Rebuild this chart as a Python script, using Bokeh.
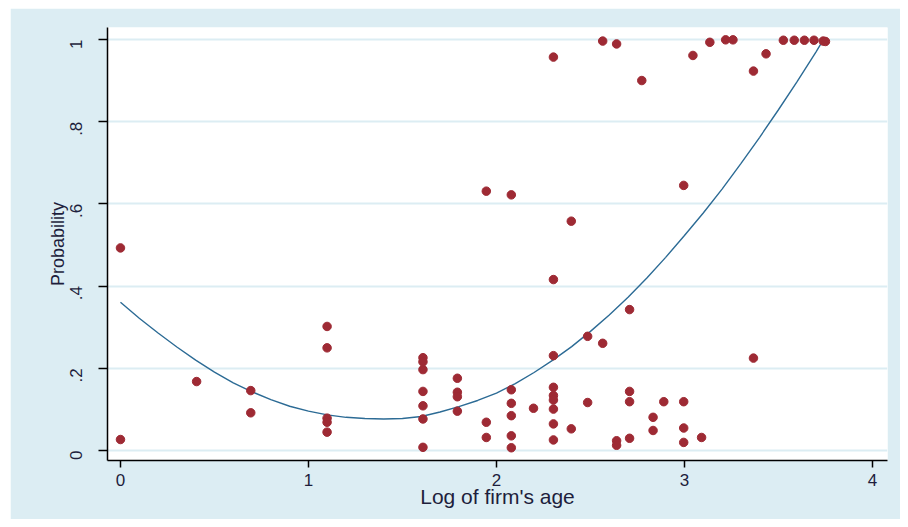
import math
from bokeh.plotting import figure
from bokeh.models import Range1d, FixedTicker, ColumnDataSource
from bokeh.embed import file_html
from bokeh.resources import INLINE

# Scatter data: log of firm's age vs probability
age_log = [0.0, 0.0,
           0.405,
           0.693, 0.693,
           1.099, 1.099, 1.099, 1.099, 1.099,
           1.609, 1.609, 1.609, 1.609, 1.609, 1.609, 1.609,
           1.792, 1.792, 1.792, 1.792,
           1.946, 1.946, 1.946,
           2.079, 2.079, 2.079, 2.079, 2.079, 2.079,
           2.197,
           2.303, 2.303, 2.303, 2.303, 2.303, 2.303, 2.303, 2.303, 2.303,
           2.398, 2.398,
           2.485, 2.485,
           2.565, 2.565,
           2.639, 2.639, 2.639,
           2.708, 2.708, 2.708, 2.708,
           2.773,
           2.833, 2.833,
           2.890,
           2.996, 2.996, 2.996, 2.996,
           3.045,
           3.091,
           3.135,
           3.219, 3.258,
           3.367, 3.367,
           3.434,
           3.526, 3.584, 3.638, 3.689, 3.738, 3.750]
prob = [0.493, 0.027,
        0.168,
        0.146, 0.092,
        0.302, 0.250, 0.079, 0.069, 0.045,
        0.226, 0.216, 0.197, 0.144, 0.109, 0.077, 0.008,
        0.176, 0.142, 0.131, 0.096,
        0.631, 0.069, 0.032,
        0.622, 0.148, 0.115, 0.085, 0.036, 0.007,
        0.103,
        0.957, 0.416, 0.231, 0.154, 0.134, 0.123, 0.101, 0.065, 0.026,
        0.558, 0.053,
        0.278, 0.117,
        0.996, 0.261,
        0.989, 0.024, 0.013,
        0.343, 0.144, 0.119, 0.030,
        0.900,
        0.081, 0.049,
        0.119,
        0.645, 0.119, 0.055, 0.020,
        0.961,
        0.032,
        0.993,
        0.999, 0.999,
        0.923, 0.225,
        0.965,
        0.998, 0.998, 0.998, 0.998, 0.996, 0.995]

# Fitted curve
fit_x = [0.0, 0.1, 0.2, 0.3, 0.4, 0.5, 0.6, 0.7, 0.8, 0.9, 1.0, 1.1, 1.2,
         1.3, 1.4, 1.5, 1.6, 1.7, 1.8, 1.9, 2.0, 2.1, 2.2, 2.3, 2.4, 2.5,
         2.6, 2.7, 2.8, 2.9, 3.0, 3.1, 3.2, 3.3, 3.4, 3.5, 3.6, 3.7, 3.74]
fit_y = [0.361, 0.322, 0.286, 0.252, 0.220, 0.191, 0.165, 0.143, 0.124,
         0.108, 0.096, 0.087, 0.081, 0.078, 0.077, 0.078, 0.083, 0.094,
         0.107, 0.122, 0.140, 0.163, 0.190, 0.220, 0.253, 0.290, 0.330,
         0.373, 0.420, 0.470, 0.523, 0.578, 0.636, 0.698, 0.762, 0.829,
         0.898, 0.970, 1.0]

x_ticks = [0, 1, 2, 3, 4]
y_ticks = [0, 0.2, 0.4, 0.6, 0.8, 1]
y_tick_labels = ["0", ".2", ".4", ".6", ".8", "1"]

BG = "#dcedf3"
FONT = "Liberation Sans"

p = figure(width=890, height=511, output_backend="svg", toolbar_location=None,
           x_range=Range1d(-0.069, 4.08), y_range=Range1d(-0.024, 1.029),
           min_border_left=97, min_border_right=13, min_border_top=19,
           min_border_bottom=59)
p.margin = (8, 0, 0, 10)
p.background_fill_color = "white"
p.border_fill_color = BG
p.outline_line_color = None

src = ColumnDataSource(dict(x=age_log, y=prob))
p.line(fit_x, fit_y, line_color="#2c6b95", line_width=1.4)
p.scatter("x", "y", source=src, marker="circle", size=8.5,
          fill_color="#9e2a34", line_color="#9e2a34")

p.xgrid.grid_line_color = None
p.ygrid.grid_line_color = BG
p.ygrid.grid_line_width = 2
p.ygrid.ticker = FixedTicker(ticks=y_ticks)

xa = p.xaxis[0]
xa.ticker = FixedTicker(ticks=x_ticks)
xa.axis_label = "Log of firm's age"
xa.axis_label_text_font = FONT
xa.axis_label_text_font_style = "normal"
xa.axis_label_text_font_size = "21px"
xa.axis_label_text_color = "#1e1e3c"
xa.axis_label_standoff = -4
xa.major_label_text_font = FONT
xa.major_label_text_font_size = "17px"
xa.major_label_text_color = "#1e1e3c"
xa.major_label_standoff = 6
xa.major_tick_out = 7
xa.major_tick_in = 0
xa.minor_tick_out = 0
xa.minor_tick_in = 0
xa.axis_line_color = "black"
xa.axis_line_width = 1.5
xa.major_tick_line_color = "black"
xa.major_tick_line_width = 1.5

ya = p.yaxis[0]
ya.ticker = FixedTicker(ticks=y_ticks)
ya.major_label_overrides = {t: s for t, s in zip(y_ticks, y_tick_labels)}
ya.major_label_orientation = math.pi / 2
ya.axis_label = "Probability"
ya.axis_label_text_font = FONT
ya.axis_label_text_font_style = "normal"
ya.axis_label_text_font_size = "18px"
ya.axis_label_text_color = "#1e1e3c"
ya.axis_label_standoff = -6
ya.major_label_text_font = FONT
ya.major_label_text_font_size = "17px"
ya.major_label_text_color = "#1e1e3c"
ya.major_label_standoff = 22
ya.major_tick_out = 9
ya.major_tick_in = 0
ya.minor_tick_out = 0
ya.minor_tick_in = 0
ya.axis_line_color = "black"
ya.axis_line_width = 1.5
ya.major_tick_line_color = "black"
ya.major_tick_line_width = 1.5

open("out.html", "w").write(file_html(p, INLINE))
